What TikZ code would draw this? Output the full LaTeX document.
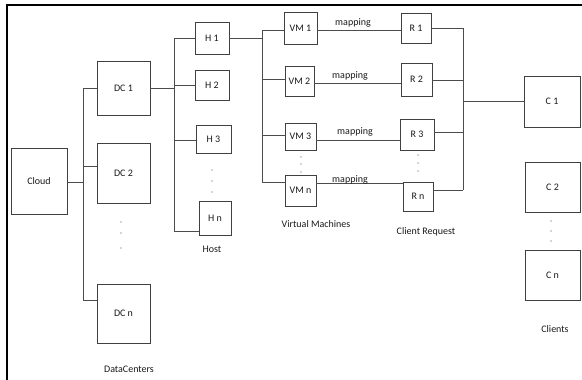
\documentclass[tikz,border=0pt]{standalone}
\usepackage{fontspec}
\setmainfont{Carlito}
\begin{document}
\begin{tikzpicture}[x=1pt,y=-1pt,
  box/.style={draw=black!75,line width=0.7pt,inner sep=0pt,font=\fontsize{10}{11}\selectfont,text=black!90},
  wire/.style={draw=black!70,line width=0.9pt},
  lbl/.style={inner sep=0pt,font=\fontsize{10}{11}\selectfont,text=black!90},
  dot/.style={fill=black!70,circle,inner sep=0pt,minimum size=1.1pt}]
\useasboundingbox (0,0) rectangle (582,380);
% frame
\draw[line width=2.4pt,black] (582,5) -- (7,5) -- (7,380);

% cloud and data centres
\node[box,minimum width=56pt,minimum height=66pt] (cloud) at (39,181) {Cloud};
\node[box,minimum width=53pt,minimum height=54pt] (dc1) at (123.5,88) {DC 1};
\node[box,minimum width=53pt,minimum height=60pt] (dc2) at (123.5,173) {DC 2};
\node[box,minimum width=53pt,minimum height=59pt] (dcn) at (123.5,313.5) {DC n};
\node[lbl] (lbldc) at (129,369) {DataCenters};

% hosts
\node[box,minimum width=34pt,minimum height=32pt] (h1) at (212,38) {H 1};
\node[box,minimum width=34pt,minimum height=30pt] (h2) at (212,85) {H 2};
\node[box,minimum width=35pt,minimum height=28pt] (h3) at (213.5,139) {H 3};
\node[box,minimum width=32pt,minimum height=34pt] (hn) at (215,218) {H n};
\node[lbl] (lblh) at (212,249) {Host};

% virtual machines
\node[box,minimum width=33pt,minimum height=32pt] (vm1) at (300.5,28) {VM 1};
\node[box,minimum width=29pt,minimum height=30pt] (vm2) at (299.5,81) {VM 2};
\node[box,minimum width=31pt,minimum height=27pt] (vm3) at (300.5,136.5) {VM 3};
\node[box,minimum width=31pt,minimum height=31pt] (vmn) at (300.5,190.5) {VM n};
\node[lbl] (lblvm) at (316,224) {Virtual Machines};

% client requests
\node[box,minimum width=30pt,minimum height=30pt] (r1) at (416,28) {R 1};
\node[box,minimum width=31pt,minimum height=33pt] (r2) at (416.5,79.5) {R 2};
\node[box,minimum width=34pt,minimum height=31pt] (r3) at (417,134.5) {R 3};
\node[box,minimum width=30pt,minimum height=29pt] (rn) at (418,196.5) {R n};
\node[lbl] (lblr) at (426,232) {Client Request};

% clients
\node[box,minimum width=56pt,minimum height=51pt] (c1) at (552,101.5) {C 1};
\node[box,minimum width=55pt,minimum height=50pt] (c2) at (552.5,187) {C 2};
\node[box,minimum width=55pt,minimum height=50pt] (cn) at (552.5,275) {C n};
\node[lbl] (lblc) at (555,329) {Clients};

% bus junction points
\coordinate (a0) at (83,182);
\coordinate (a1) at (83,88);
\coordinate (a2) at (83,166);
\coordinate (an) at (83,300);
\coordinate (b0) at (174,88);
\coordinate (b1) at (174,38);
\coordinate (b2) at (174,85);
\coordinate (b3) at (174,140);
\coordinate (bn) at (174,231);
\coordinate (v0) at (262,38);
\coordinate (v1) at (262,30);
\coordinate (v2) at (262,79);
\coordinate (v3) at (262,135);
\coordinate (vn) at (262,182);
\coordinate (q1) at (463,28);
\coordinate (q2) at (463,80);
\coordinate (q3) at (463,132);
\coordinate (qn) at (463,190);
\coordinate (q0) at (463,101);

% cloud to data centres
\draw[wire] (cloud.east |- a0) -- (a0);
\draw[wire] (a1) -- (an);
\draw[wire] (a1) -- (a1 -| dc1.west);
\draw[wire] (a2) -- (a2 -| dc2.west);
\draw[wire] (an) -- (an -| dcn.west);

% data centre to hosts
\draw[wire] (dc1.east |- b0) -- (b0);
\draw[wire] (b1) -- (bn);
\draw[wire] (b1) -- (b1 -| h1.west);
\draw[wire] (b2) -- (b2 -| h2.west);
\draw[wire] (b3) -- (b3 -| h3.west);
\draw[wire] (bn) -- (bn -| hn.west);

% host to virtual machines
\draw[wire] (h1.east |- v0) -- (v0);
\draw[wire] (v1) -- (vn);
\draw[wire] (v1) -- (v1 -| vm1.west);
\draw[wire] (v2) -- (v2 -| vm2.west);
\draw[wire] (v3) -- (v3 -| vm3.west);
\draw[wire] (vn) -- (vn -| vmn.west);

% mappings
\coordinate (m1) at (0,30);
\coordinate (m2) at (0,83);
\coordinate (m3) at (0,140);
\coordinate (mn) at (0,183);
\draw[wire] (vm1.east |- m1) -- (r1.west |- m1);
\draw[wire] (vm2.east |- m2) -- (r2.west |- m2);
\draw[wire] (vm3.east |- m3) -- (r3.west |- m3);
\draw[wire] (vmn.east |- mn) -- (rn.west |- mn);
\node[lbl] (map1) at (353,23) {mapping};
\node[lbl] (map2) at (350,76) {mapping};
\node[lbl] (map3) at (355,132) {mapping};
\node[lbl] (mapn) at (350,180) {mapping};

% requests to clients
\draw[wire] (q1) -- (qn);
\draw[wire] (r1.east |- q1) -- (q1);
\draw[wire] (r2.east |- q2) -- (q2);
\draw[wire] (r3.east |- q3) -- (q3);
\draw[wire] (rn.east |- qn) -- (qn);
\draw[wire] (q0) -- (q0 -| c1.west);

% ellipsis dots
\foreach \y in {222,233,248} \node[dot] at (121,\y) {};
\foreach \y in {170,181,192} \node[dot] at (212,\y) {};
\foreach \y in {157,164,172} \node[dot] at (301,\y) {};
\foreach \y in {155,163,171} \node[dot] at (418,\y) {};
\foreach \y in {221,231,241} \node[dot] at (551,\y) {};
\end{tikzpicture}
\end{document}
